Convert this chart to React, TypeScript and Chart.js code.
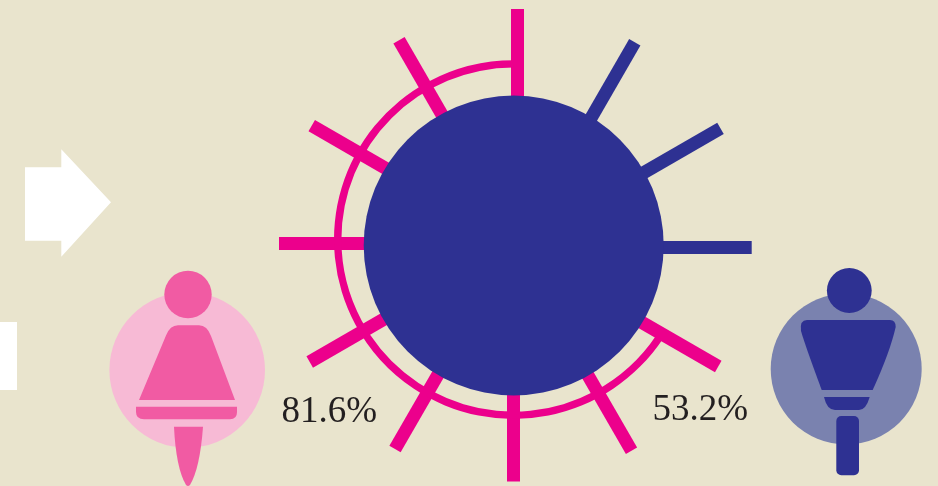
import React, { useEffect, useRef } from "react";
import { Chart, registerables } from "chart.js";

Chart.register(...registerables);

const WIDTH = 938;
const HEIGHT = 486;

const BG = "#E9E4CD";
const MAGENTA = "#EC008C";
const NAVY = "#2E3192";
const PINK = "#F15BA3";
const PINK_LIGHT = "#F7BAD5";
const BLUE_LIGHT = "#7A82AF";
const INK = "#231F20";

// Spokes, clockwise from the top
const spokeAngles = [0, 30, 60, 90, 120, 150, 180, 210, 240, 270, 300, 330];
const spokeLengths = [236.5, 234.6, 234.4, 234.2, 237, 237, 236, 235, 233, 238.5, 237.6, 237];
const spokeHubX = [517.5, 517.5, 517.5, 517.5, 513, 513, 513.5, 512.5, 511.5, 517.5, 517.5, 517.5];
const spokeHubY = [245.5, 245.5, 245.5, 247.5, 248, 245.5, 245.5, 245.5, 245.5, 243.5, 244.5, 245.5];
const spokeColors = [MAGENTA, NAVY, NAVY, NAVY, MAGENTA, MAGENTA, MAGENTA, MAGENTA, MAGENTA, MAGENTA, MAGENTA, MAGENTA];

// Ring (share of the turn that is drawn, and the gap)
const ringValues = [65.64, 34.36];

// Round marks: hub, person backgrounds, heads
const discX = [513.7, 187.2, 846.2, 188, 849.3];
const discY = [245.5, 370, 369, 294.5, 290.5];
const discR = [150, 77.8, 75.5, 23.7, 22.4];
const discColors = [NAVY, PINK_LIGHT, BLUE_LIGHT, PINK, NAVY];
const discOrder = [0, 3, 3, 2, 2];

const labels = ["81.6%", "53.2%"];
const labelX = [281.5, 652.5];
const labelY = [422, 420];

const decorations = {
  id: "decorations",
  afterDatasetsDraw(chart: Chart) {
    const { ctx } = chart;
    const sx = chart.scales.x;
    const sy = chart.scales.y;
    const X = (v: number) => sx.getPixelForValue(v);
    const Y = (v: number) => sy.getPixelForValue(v);
    const M = (x: number, y: number) => ctx.moveTo(X(x), Y(y));
    const L = (x: number, y: number) => ctx.lineTo(X(x), Y(y));
    const Q = (cx: number, cy: number, x: number, y: number) =>
      ctx.quadraticCurveTo(X(cx), Y(cy), X(x), Y(y));

    ctx.save();

    // White arrow and the cut-off box
    ctx.fillStyle = "#FFFFFF";
    ctx.beginPath();
    M(25, 167.3);
    L(61.3, 167.3);
    L(61.3, 149.3);
    L(111, 202.3);
    L(61.3, 256.7);
    L(61.3, 240.7);
    L(25, 240.7);
    ctx.closePath();
    ctx.fill();
    ctx.fillRect(X(0), Y(322), X(17) - X(0), Y(390) - Y(322));

    // Woman
    ctx.fillStyle = PINK;
    ctx.beginPath();
    M(139, 400);
    L(166, 335.5);
    Q(170, 325.3, 178, 325.3);
    L(199, 325.3);
    Q(207, 325.3, 211, 336);
    L(235, 400);
    ctx.closePath();
    ctx.fill();
    ctx.beginPath();
    M(136, 406.7);
    L(237, 406.7);
    L(237, 412);
    Q(237, 419.3, 230, 419.3);
    L(144, 419.3);
    Q(136, 419.3, 136, 412);
    ctx.closePath();
    ctx.fill();
    ctx.beginPath();
    M(174, 426.7);
    L(203, 426.7);
    Q(200, 468, 190, 485);
    Q(188, 487, 186, 485);
    Q(176, 468, 174, 426.7);
    ctx.closePath();
    ctx.fill();

    // Man
    ctx.fillStyle = NAVY;
    ctx.beginPath();
    M(807, 320);
    L(890, 320);
    Q(895.7, 320, 895.7, 327);
    Q(890, 352, 872.7, 390);
    L(821.7, 390);
    Q(805, 345, 801, 331);
    Q(799.5, 320, 807, 320);
    ctx.closePath();
    ctx.fill();
    ctx.beginPath();
    M(824, 397);
    L(869.7, 397);
    Q(866, 410, 859, 410);
    L(835, 410);
    Q(827, 410, 824, 397);
    ctx.closePath();
    ctx.fill();
    ctx.beginPath();
    ctx.roundRect(X(836.3), Y(416), X(859) - X(836.3), Y(475.3) - Y(416), 5);
    ctx.fill();

    // Percentages
    ctx.fillStyle = INK;
    ctx.font = '37px "Liberation Serif"';
    ctx.textAlign = "left";
    ctx.textBaseline = "alphabetic";
    labels.forEach((t, i) => ctx.fillText(t, X(labelX[i]), Y(labelY[i])));

    ctx.restore();
  },
};

export default function App() {
  const baseRef = useRef<HTMLCanvasElement>(null);
  const ringRef = useRef<HTMLCanvasElement>(null);

  useEffect(() => {
    const spokes = spokeAngles.map((deg, i) => {
      const a = (deg * Math.PI) / 180;
      return {
        type: "scatter" as const,
        showLine: true,
        order: 1,
        borderColor: spokeColors[i],
        borderWidth: 13,
        borderCapStyle: "butt" as const,
        pointRadius: 0,
        clip: false,
        data: [
          { x: spokeHubX[i], y: spokeHubY[i] },
          {
            x: spokeHubX[i] + spokeLengths[i] * Math.sin(a),
            y: spokeHubY[i] - spokeLengths[i] * Math.cos(a),
          },
        ],
      };
    });
    const discs = discX.map((x, i) => ({
      type: "scatter" as const,
      order: discOrder[i],
      pointRadius: discR[i],
      pointHoverRadius: discR[i],
      pointBackgroundColor: discColors[i],
      pointBorderWidth: 0,
      clip: false,
      data: [{ x, y: discY[i] }],
    }));

    const base = new Chart(baseRef.current!, {
      type: "scatter",
      data: { datasets: [...discs, ...spokes] as any },
      options: {
        animation: false,
        responsive: false,
        events: [],
        layout: { padding: 0, autoPadding: false },
        plugins: { legend: { display: false }, tooltip: { enabled: false } },
        scales: {
          x: { type: "linear", display: false, min: 0, max: WIDTH },
          y: { type: "linear", display: false, min: 0, max: HEIGHT, reverse: true },
        },
      },
      plugins: [decorations],
    });

    const ringCx = 513.4;
    const ringCy = 239.6;
    const ringOuter = 179.4;
    const ring = new Chart(ringRef.current!, {
      type: "doughnut",
      data: {
        datasets: [
          {
            data: ringValues,
            backgroundColor: [MAGENTA, "rgba(0,0,0,0)"],
            borderWidth: 0,
          },
        ],
      },
      options: {
        animation: false,
        responsive: false,
        events: [],
        rotation: 123.7,
        cutout: ringOuter - 7.4,
        layout: {
          autoPadding: false,
          padding: {
            left: ringCx - ringOuter,
            right: WIDTH - ringCx - ringOuter,
            top: ringCy - ringOuter,
            bottom: HEIGHT - ringCy - ringOuter,
          },
        },
        plugins: { legend: { display: false }, tooltip: { enabled: false } },
      },
    });

    return () => {
      base.destroy();
      ring.destroy();
    };
  }, []);

  const layer: React.CSSProperties = { position: "absolute", left: 0, top: 0, display: "block" };
  return (
    <div style={{ position: "fixed", left: 0, top: 0, width: WIDTH, height: HEIGHT, background: BG, overflow: "hidden" }}>
      <canvas ref={baseRef} width={WIDTH} height={HEIGHT} style={layer} />
      <canvas ref={ringRef} width={WIDTH} height={HEIGHT} style={layer} />
    </div>
  );
}
